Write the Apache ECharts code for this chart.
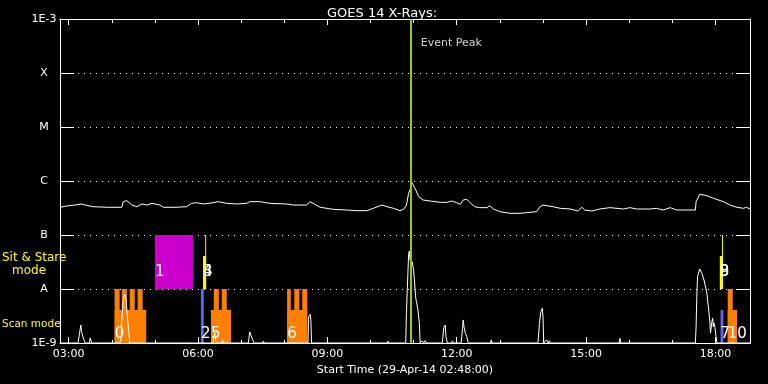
<!DOCTYPE html>
<html><head><meta charset="utf-8">
<script src="https://cdn.jsdelivr.net/npm/echarts@6/dist/echarts.min.js"></script>
<style>html,body{margin:0;padding:0;background:#000}#c{width:768px;height:384px}</style>
</head><body><div id="c"></div>
<script>
const xTickLabels = ['03:00','06:00','09:00','12:00','15:00','18:00'];
const xHourTicks = ['03:00','04:00','05:00','06:00','07:00','08:00','09:00','10:00','11:00','12:00','13:00','14:00','15:00','16:00','17:00','18:00'];
const yTickLabels = ['1E-9','A','B','C','M','X','1E-3'];
const timeRange = ['02:48','18:48'];
const eventPeak = '10:56';

const goesFlux = [
['02:48',3.26e-7],['02:57',3.44e-7],['03:09',3.59e-7],['03:18',3.75e-7],['03:23',3.59e-7],['03:34',3.34e-7],['03:55',3.26e-7],
['04:14',3.26e-7],['04:16',4.14e-7],['04:21',4.32e-7],['04:28',3.59e-7],['04:35',3.34e-7],['04:42',3.75e-7],['04:49',3.59e-7],
['04:56',3.86e-7],['05:07',3.59e-7],['05:12',3.26e-7],['05:28',3.26e-7],['05:44',3.34e-7],['05:51',3.86e-7],['05:58',3.96e-7],
['06:07',3.75e-7],['06:21',3.96e-7],['06:28',4.14e-7],['06:40',3.86e-7],['06:54',3.75e-7],['07:08',3.86e-7],['07:12',4.14e-7],
['07:26',4.14e-7],['07:40',3.86e-7],['08:03',3.75e-7],['08:13',3.59e-7],['08:31',3.59e-7],['08:36',4.14e-7],['08:40',3.86e-7],
['08:50',3.26e-7],['09:08',2.99e-7],['09:27',2.90e-7],['09:41',2.82e-7],['09:55',2.82e-7],['10:04',3.12e-7],['10:16',3.59e-7],
['10:23',3.34e-7],['10:32',3.12e-7],['10:41',2.82e-7],['10:46',2.99e-7],['10:50',3.59e-7],['10:53',5.92e-7],['10:55',6.81e-7],
['10:57',9.70e-7],['11:02',7.32e-7],['11:07',5.12e-7],['11:13',4.45e-7],['11:23',4.26e-7],['11:37',4.03e-7],['11:46',4.03e-7],
['11:53',4.26e-7],['12:00',3.96e-7],['12:05',3.70e-7],['12:09',4.45e-7],['12:14',4.58e-7],['12:18',4.03e-7],['12:25',3.34e-7],
['12:32',3.21e-7],['12:42',3.21e-7],['12:46',3.49e-7],['12:51',3.03e-7],['13:00',2.70e-7],['13:14',2.52e-7],['13:28',2.52e-7],
['13:42',2.63e-7],['13:51',2.70e-7],['13:56',3.34e-7],['14:00',3.59e-7],['14:14',3.34e-7],['14:24',3.12e-7],['14:38',3.03e-7],
['14:49',2.78e-7],['14:54',3.26e-7],['14:58',2.90e-7],['15:08',2.78e-7],['15:19',3.03e-7],['15:33',3.21e-7],['15:43',3.12e-7],
['15:52',3.03e-7],['16:01',3.21e-7],['16:10',3.03e-7],['16:29',3.03e-7],['16:38',3.12e-7],['16:47',2.90e-7],['16:57',3.21e-7],
['17:06',2.90e-7],['17:20',2.90e-7],['17:32',2.90e-7],['17:33',4.14e-7],['17:38',5.67e-7],['17:48',5.35e-7],['17:57',4.79e-7],
['18:11',4.14e-7],['18:20',3.59e-7],['18:30',3.26e-7],['18:39',3.12e-7],['18:43',3.26e-7],['18:48',3.03e-7]
];

const lowChannel = [
['02:48',1e-9],
['03:13',1e-9],['03:15',1.47e-9],['03:17',2.15e-9],['03:18',1.62e-9],['03:20',1.28e-9],['03:22',1.1e-9],['03:23',1e-9],
['03:29',1e-9],['03:30',1.24e-9],['03:31',1.24e-9],['03:32',1e-9],
['04:11',1e-9],['04:13',1.14e-9],['04:14',2.67e-9],['04:16',6.25e-9],['04:18',8.08e-9],['04:20',6.53e-9],['04:21',4.08e-9],['04:22',2.67e-9],['04:23',1.98e-9],['04:24',1.47e-9],['04:25',1e-9],
['06:21',1e-9],['06:23',1.62e-9],['06:24',1.35e-9],['06:25',1e-9],
['06:33',1e-9],['06:34',1.14e-9],['06:35',1e-9],
['07:10',1e-9],['07:12',1.6e-9],['07:15',1.24e-9],['07:17',1.14e-9],['07:18',1e-9],
['07:30',1e-9],['07:31',1.09e-9],['07:32',1e-9],
['08:33',1e-9],['08:34',3.07e-9],['08:36',3.4e-9],['08:37',2.67e-9],['08:38',1e-9],
['10:23',1e-9],['10:24',1.09e-9],['10:25',1e-9],
['10:49',1e-9],['10:50',3.55e-9],['10:52',1.95e-8],['10:53',4.26e-8],['10:54',5.06e-8],['10:55',3.44e-8],['10:58',3.2e-8],['11:00',2.25e-8],['11:03',6.72e-9],['11:04',5.82e-9],['11:06',4.08e-9],['11:08',2.32e-9],['11:09',1e-9],
['11:12',1.1e-9],['11:14',1e-9],['11:16',1.1e-9],['11:18',1e-9],
['11:40',1e-9],['11:42',1.95e-9],['11:44',2.15e-9],['11:45',1.31e-9],['11:47',1e-9],
['11:53',1e-9],['11:54',1.09e-9],['11:55',1e-9],
['12:06',1e-9],['12:07',1.31e-9],['12:08',1.86e-9],['12:09',2.67e-9],['12:10',2.0e-9],['12:12',1.51e-9],['12:14',1.31e-9],['12:16',1e-9],
['12:47',1e-9],['12:48',1.14e-9],['12:49',1e-9],
['13:53',1e-9],['13:55',2.32e-9],['13:57',3.8e-9],['13:59',4.39e-9],['14:00',3.07e-9],['14:01',1e-9],
['14:05',1.14e-9],['14:07',1e-9],['14:09',1.1e-9],['14:10',1e-9],
['15:46',1e-9],['15:47',1.22e-9],['15:48',1e-9],
['17:32',1e-9],['17:33',2.0e-9],['17:34',7.2e-9],['17:35',1.69e-8],['17:38',2.35e-8],['17:41',1.95e-8],['17:44',1.47e-8],['17:48',8.32e-9],['17:50',4.7e-9],['17:52',2.67e-9],['17:53',1.53e-9],['17:55',2.48e-9],['17:56',2.87e-9],['17:57',2.0e-9],['17:58',2.32e-9],['17:59',2.0e-9],['18:02',1e-9],
['18:48',1e-9]
];

// [start, end, bottom, top]
const scanBlocks = [
['04:04','04:48',1e-9,4.08e-9],['04:04','04:11',1e-9,1e-8],['04:14','04:21',1e-9,1e-8],['04:25','04:32',1e-9,1e-8],['04:36','04:43',1e-9,1e-8],
['06:18','06:46',1e-9,4.08e-9],['06:22','06:29',1e-9,1e-8],['06:33','06:40',1e-9,1e-8],
['08:04','08:32',1e-9,4.08e-9],['08:04','08:09',1e-9,1e-8],['08:14','08:21',1e-9,1e-8],['08:25','08:32',1e-9,1e-8],
['18:17','18:30',1e-9,4.08e-9],['18:17','18:24',1e-9,1e-8]
];
const blueBlocks = [['06:04','06:08',1e-9,1e-8],['18:07','18:11',1e-9,4.08e-9]];
const yellowBlocks = [['06:07','06:11',1e-8,4.08e-8],['06:10','06:10',1e-8,1e-7],['18:06','18:10',1e-8,4.08e-8],['18:09','18:09',1e-8,1e-7]];
const magentaBlocks = [['05:00','05:53',1e-8,1e-7]];
// [text, time, level]
const obsLabels = [
['0','04:04',1.47e-9],['1','05:00',2.06e-8],['2','06:04',1.47e-9],['3','06:07',2.06e-8],['4','06:07',2.06e-8],
['5','06:18',1.47e-9],['6','08:04',1.47e-9],['7','18:07',1.47e-9],['8','18:06',2.06e-8],['9','18:06',2.06e-8],['10','18:17',1.47e-9]
];

function tm(s){const p=s.split(':').map(Number);return p[0]*60+p[1];}
function fmt(m){const h=Math.floor(m/60),mm=Math.round(m%60);return (h<10?'0':'')+h+':'+(mm<10?'0':'')+mm;}
const FONT='DejaVu Sans';
const xmin=tm(timeRange[0]), xmax=tm(timeRange[1]);

function blockSeries(list,color){
  return {type:'custom',xAxisIndex:0,yAxisIndex:0,z:3,
    data:list.map(b=>[tm(b[0]),tm(b[1]),b[2],b[3]]),
    encode:{x:[0,1],y:[2,3]},
    renderItem:function(params,api){
      const p0=api.coord([api.value(0),api.value(2)]);
      const p1=api.coord([api.value(1),api.value(3)]);
      const w=Math.max(p1[0]-p0[0],1);
      return {type:'rect',shape:{x:p0[0],y:p1[1],width:w,height:p0[1]-p1[1]},style:{fill:color}};
    }};
}
const logMap={};
yTickLabels.forEach((t,i)=>{logMap[-9+i]=t;});

const axisCommon={type:'value',min:xmin,max:xmax,splitLine:{show:false}};
const option={
  backgroundColor:'#000',
  animation:false,
  title:{text:'GOES 14 X-Rays:',left:322,top:2,textStyle:{color:'#fff',fontSize:13,fontWeight:'normal',fontFamily:FONT}},
  grid:{left:60,right:18,top:19,bottom:41},
  xAxis:[
    Object.assign({},axisCommon,{position:'bottom',
      axisLine:{show:true,lineStyle:{color:'#fff',width:1}},
      axisTick:{show:true,inside:true,length:6,customValues:xTickLabels.map(tm),lineStyle:{color:'#fff'}},
      axisLabel:{show:true,customValues:xTickLabels.map(tm),formatter:v=>fmt(v),color:'#fff',fontSize:11,fontFamily:FONT,margin:6},
      name:'Start Time (29-Apr-14 02:48:00)',nameLocation:'middle',nameGap:19,
      nameTextStyle:{color:'#fff',fontSize:11,fontFamily:FONT}}),
    Object.assign({},axisCommon,{position:'bottom',
      axisLine:{show:false},
      axisTick:{show:true,inside:true,length:3,customValues:xHourTicks.map(tm),lineStyle:{color:'#fff'}},
      axisLabel:{show:false}}),
    Object.assign({},axisCommon,{position:'top',
      axisLine:{show:true,lineStyle:{color:'#fff',width:1}},
      axisTick:{show:true,inside:true,length:6,customValues:xTickLabels.map(tm),lineStyle:{color:'#fff'}},
      axisLabel:{show:false}}),
    Object.assign({},axisCommon,{position:'top',
      axisLine:{show:false},
      axisTick:{show:true,inside:true,length:4,customValues:xHourTicks.map(tm),lineStyle:{color:'#fff'}},
      axisLabel:{show:false}})
  ],
  yAxis:[
    {type:'log',logBase:10,min:1e-9,max:1e-3,position:'left',
      axisLine:{show:true,lineStyle:{color:'#fff'}},
      axisTick:{show:true,inside:true,length:14,lineStyle:{color:'#fff'}},
      axisLabel:{color:'#fff',fontSize:11,fontFamily:FONT,margin:16,align:'center',
        formatter:v=>logMap[Math.round(Math.log10(v))]||''},
      splitLine:{show:true,lineStyle:{color:'#fff',type:[1,5],width:1}}},
    {type:'log',logBase:10,min:1e-9,max:1e-3,position:'right',
      axisLine:{show:true,lineStyle:{color:'#fff'}},
      axisTick:{show:true,inside:true,length:14,lineStyle:{color:'#fff'}},
      axisLabel:{show:false},splitLine:{show:false}}
  ],
  graphic:[
    {type:'text',x:2,y:258,style:{text:'Sit & Stare',fill:'#ffff00',font:'12px '+FONT,verticalAlign:'middle'}},
    {type:'text',x:12,y:271,style:{text:'mode',fill:'#ffff00',font:'12px '+FONT,verticalAlign:'middle'}},
    {type:'text',x:2,y:324,style:{text:'Scan mode',fill:'#ffff00',font:'10.5px '+FONT,verticalAlign:'middle'}}
  ],
  series:[
    blockSeries(magentaBlocks,'#cc00cc'),
    blockSeries(scanBlocks,'#ff8000'),
    blockSeries(blueBlocks,'#6464f0'),
    blockSeries(yellowBlocks,'#ffff00'),
    {type:'line',name:'low',xAxisIndex:0,yAxisIndex:0,z:4,showSymbol:false,symbol:'none',
      data:lowChannel.map(d=>[tm(d[0]),d[1]]),lineStyle:{color:'#fff',width:1}},
    {type:'line',name:'goes',xAxisIndex:0,yAxisIndex:0,z:4,showSymbol:false,symbol:'none',
      data:goesFlux.map(d=>[tm(d[0]),d[1]]),lineStyle:{color:'#fff',width:1},
      markLine:{symbol:'none',silent:true,label:{show:false},
        lineStyle:{color:'#99cc00',width:2,type:'solid'},data:[{xAxis:tm(eventPeak)}]}},
    {type:'scatter',xAxisIndex:0,yAxisIndex:0,z:6,symbolSize:0,silent:true,
      data:[[tm(eventPeak),3.6e-4]],
      label:{show:true,position:'right',distance:10,formatter:'Event Peak',color:'#fff',fontSize:11,fontFamily:FONT}},
    {type:'custom',xAxisIndex:0,yAxisIndex:0,z:6,silent:true,
      data:obsLabels.map(d=>[tm(d[1]),d[2],d[0]]),
      renderItem:function(params,api){
        const p=api.coord([api.value(0),api.value(1)]);
        return {type:'text',x:p[0],y:p[1],style:{text:String(obsLabels[params.dataIndex][0]),fill:'#fff',font:'15px '+FONT,verticalAlign:'middle',align:'left'}};
      }}
  ]
};
const chart=echarts.init(document.getElementById('c'),null,{renderer:'canvas'});
chart.setOption(option);
</script></body></html>
